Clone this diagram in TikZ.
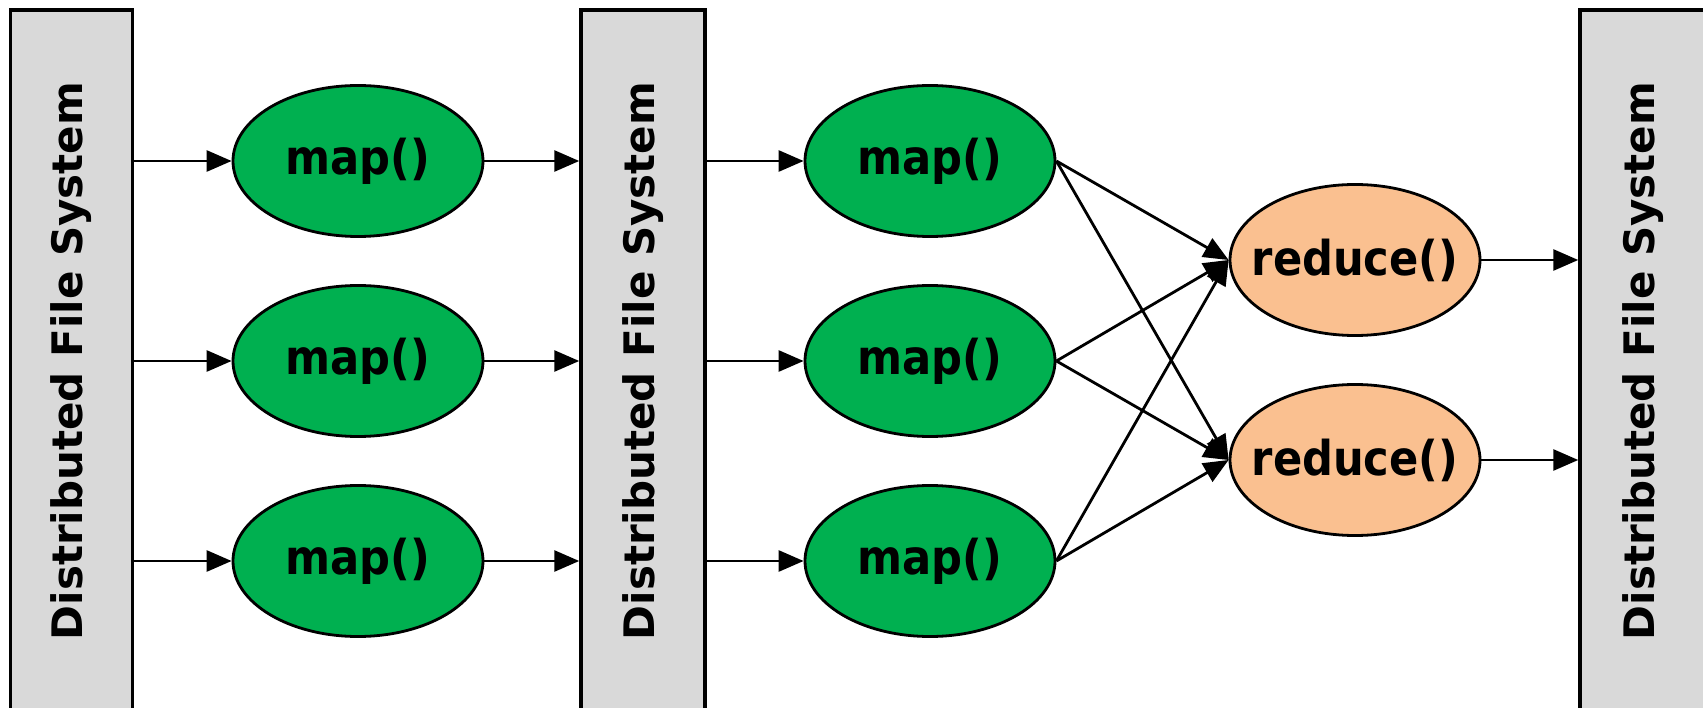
\documentclass[tikz,border=0pt]{standalone}
\usepackage{fontspec}
\setmainfont{DejaVu Sans}
\newfontfamily\condfont{DejaVu Sans Condensed}
\usetikzlibrary{arrows.meta,shapes.geometric}
\definecolor{dfsgray}{HTML}{D9D9D9}
\definecolor{mapgreen}{HTML}{00B050}
\definecolor{redorange}{HTML}{FAC090}
\tikzset{
  dfs/.style={draw=black, line width=3.5pt, fill=dfsgray, minimum width=122pt,
    minimum height=702pt, inner sep=0pt,
    font=\fontsize{42}{42}\selectfont\bfseries},
  fn/.style={ellipse, draw=black, line width=2.8pt, minimum width=250pt,
    minimum height=151pt, inner sep=0pt,
    font=\condfont\fontsize{48}{48}\selectfont\bfseries},
  mapnode/.style={fn, fill=mapgreen},
  rednode/.style={fn, fill=redorange},
  arr/.style={line width=2.8pt, -{Triangle[length=25pt,width=21pt]}},
}
\newcommand{\dfstext}{\rotatebox{90}{Distributed File System}}
% label that does not widen its ellipse
\newcommand{\fnlabel}[1]{\makebox[0pt]{#1}}
\begin{document}
\begin{tikzpicture}[x=1pt,y=-1pt]
\useasboundingbox (0,0) rectangle (1703,708);
% file system columns
\node[dfs] (d1) at (71.5,361) {\dfstext};
\node[dfs, minimum width=124pt] (d2) at (643,361) {\dfstext};
\node[dfs, minimum width=126pt] (d3) at (1643,361) {\dfstext};
% first map stage
\node[mapnode] (a1) at (358,161) {\fnlabel{map()}};
\node[mapnode] (a2) at (358,361) {\fnlabel{map()}};
\node[mapnode] (a3) at (358,561) {\fnlabel{map()}};
% second map stage
\node[mapnode] (b1) at (930,161) {\fnlabel{map()}};
\node[mapnode] (b2) at (930,361) {\fnlabel{map()}};
\node[mapnode] (b3) at (930,561) {\fnlabel{map()}};
% reducers
\node[rednode] (r1) at (1355,260) {\fnlabel{reduce()}};
\node[rednode] (r2) at (1355,460) {\fnlabel{reduce()}};
% file system -> map -> file system
\foreach \m in {a1,a2,a3}{
  \draw[arr] (d1.east |- \m.west) -- (\m.west);
  \draw[arr] (\m.east) -- (d2.west |- \m.east);
}
% file system -> map -> every reducer
\foreach \m in {b1,b2,b3}{
  \draw[arr] (d2.east |- \m.west) -- (\m.west);
  \foreach \r in {r1,r2}{
    \draw[arr] (\m.east) -- (\r.west);
  }
}
% reducers -> file system
\foreach \r in {r1,r2}{
  \draw[arr] (\r.east) -- (d3.west |- \r.east);
}
\end{tikzpicture}
\end{document}
